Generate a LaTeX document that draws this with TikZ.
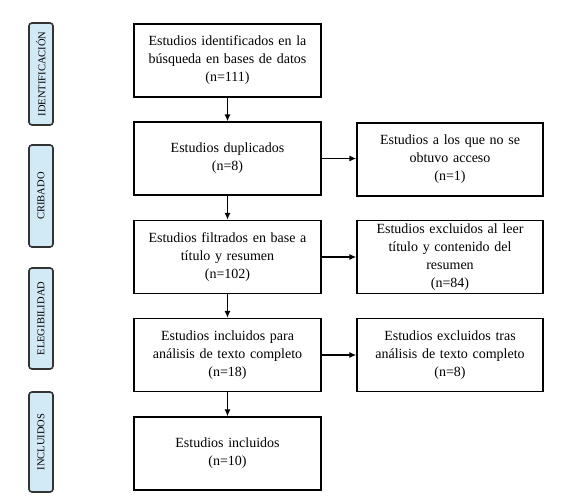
\documentclass[tikz,border=0pt]{standalone}
\usepackage{fontspec}
\setmainfont{Liberation Serif}
\usetikzlibrary{arrows.meta}
\begin{document}
\begin{tikzpicture}[x=1pt,y=-1pt,
  mainbox/.style={draw=black, line width=1.3pt, minimum width=187pt, minimum height=73pt, align=center, font=\fontsize{14}{18}\selectfont, inner sep=2pt, text width=180pt},
  sidebox/.style={draw=black, line width=1.3pt, minimum width=186pt, minimum height=73pt, align=center, font=\fontsize{14}{18}\selectfont, inner sep=2pt, text width=170pt},
  phase/.style={draw=black!80, line width=1.6pt, fill=phasecol, rounded corners=3pt, minimum height=24pt, inner sep=0pt, font=\fontsize{10.5}{12}\selectfont, rotate=90},
  arr/.style={-{Latex[length=7pt,width=6pt]}, line width=1.3pt}
]
\definecolor{phasecol}{HTML}{D2E9F6}
\useasboundingbox (0,0) rectangle (567,496);
\fill[white] (0,0) rectangle (567,496);
% phase labels
\node[phase, minimum width=102pt] (p1) at (41,74) {IDENTIFICACIÓN};
\node[phase, minimum width=102pt] (p2) at (41,196) {CRIBADO};
\node[phase, minimum width=101pt] (p3) at (41,318.5) {ELEGIBILIDAD};
\node[phase, minimum width=100pt] (p4) at (41,442) {INCLUIDOS};
% main column
\node[mainbox] (b1) at (227.5,60.5) {Estudios identificados en la\\búsqueda en bases de datos\\(n=111)};
\node[mainbox] (b2) at (227.5,158.5) {Estudios duplicados\\(n=8)};
\node[mainbox] (b3) at (227.5,257) {Estudios filtrados en base a\\título y resumen\\(n=102)};
\node[mainbox] (b4) at (227.5,355) {Estudios incluidos para\\análisis de texto completo\\(n=18)};
\node[mainbox] (b5) at (227.5,453.5) {Estudios incluidos\\(n=10)};
% side column
\node[sidebox] (r1) at (450,159.5) {Estudios a los que no se\\obtuvo acceso\\(n=1)};
\node[sidebox] (r2) at (450,257) {Estudios excluidos al leer\\título y contenido del\\resumen\\(n=84)};
\node[sidebox] (r3) at (450,355) {Estudios excluidos tras\\análisis de texto completo\\(n=8)};
% arrows
\draw[arr] (b1) -- (b2);
\draw[arr] (b2) -- (b3);
\draw[arr] (b3) -- (b4);
\draw[arr] (b4) -- (b5);
\draw[arr] (b2.east) -- (r1.west |- b2.east);
\draw[arr] (b3) -- (r2);
\draw[arr] (b4) -- (r3);
\end{tikzpicture}
\end{document}
